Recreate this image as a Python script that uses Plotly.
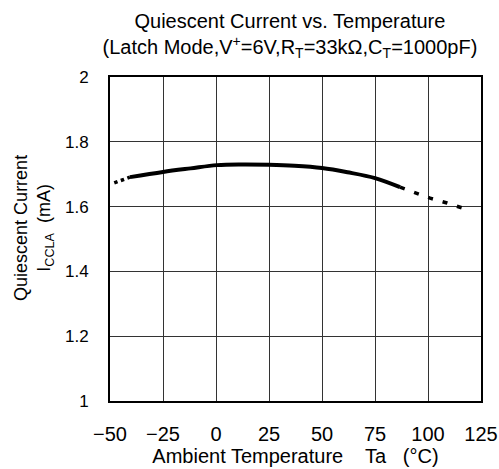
import plotly.graph_objects as go

# Data
solid_T = [-40.6, -25, -12, 0.5, 12, 25, 37, 50, 62, 75, 86.8]
solid_I = [1.691, 1.707, 1.718, 1.728, 1.730, 1.729, 1.726, 1.719, 1.706, 1.688, 1.660]
dash_lo_T = [-48, -40.6]
dash_lo_I = [1.673, 1.691]
dash_hi_T = [86.8, 94, 101, 109, 117.5]
dash_hi_I = [1.660, 1.642, 1.626, 1.611, 1.593]

x_ticks = [-50, -25, 0, 25, 50, 75, 100, 125]
y_ticks = [1, 1.2, 1.4, 1.6, 1.8, 2]
y_tick_text = ["1", "1.2", "1.4", "1.6", "1.8", "2"]

FONT = "Liberation Sans, Arial, sans-serif"

fig = go.Figure()
fig.add_trace(go.Scatter(x=dash_lo_T, y=dash_lo_I, mode="lines",
                         line=dict(color="black", width=3.5, dash="dot"), showlegend=False))
fig.add_trace(go.Scatter(x=solid_T, y=solid_I, mode="lines",
                         line=dict(color="black", width=4, shape="spline"), showlegend=False))
fig.add_trace(go.Scatter(x=dash_hi_T, y=dash_hi_I, mode="lines",
                         line=dict(color="black", width=3.5, dash="5px,10px"), showlegend=False))

fig.update_layout(
    width=499, height=469,
    margin=dict(l=110, r=18, t=77, b=68),
    paper_bgcolor="white", plot_bgcolor="white",
    font=dict(family=FONT, color="black", size=16),
    title=dict(
        text="Quiescent Current vs. Temperature<br>(Latch Mode,V<sup>+</sup>=6V,R<sub>T</sub>=33kΩ,C<sub>T</sub>=1000pF)",
        x=0.581, xanchor="center", y=0.94, yanchor="top",
        font=dict(family=FONT, size=20, color="black"),
    ),
    xaxis=dict(
        range=[-50, 125], tickvals=x_ticks, ticktext=[str(v).replace("-", "−") for v in x_ticks],
        tickfont=dict(size=20),
        showgrid=True, gridcolor="#333", gridwidth=1,
        showline=True, linecolor="black", linewidth=2, mirror=True,
        ticks="", ticklabelstandoff=14, zeroline=False, automargin=False,
        title=dict(text="Ambient Temperature    Ta   (°C)", font=dict(size=20), standoff=4),
    ),
    yaxis=dict(
        range=[1, 2], tickvals=y_ticks, ticktext=y_tick_text,
        tickfont=dict(size=17),
        showgrid=True, gridcolor="#333", gridwidth=1,
        showline=True, linecolor="black", linewidth=2, mirror=True,
        ticks="", ticklabelstandoff=16, zeroline=False, automargin=False,
    ),
    annotations=[dict(
        text="Quiescent Current<br>I<sub>CCLA</sub>  (mA)",
        xref="paper", yref="paper", x=-0.205, y=0.534, xanchor="center", yanchor="middle",
        textangle=-90, showarrow=False, font=dict(family=FONT, size=18, color="black"),
    )],
)

fig.write_html("out.html", config={"displayModeBar": False},
               post_script="document.body.style.margin='0';document.body.style.overflow='hidden';")
